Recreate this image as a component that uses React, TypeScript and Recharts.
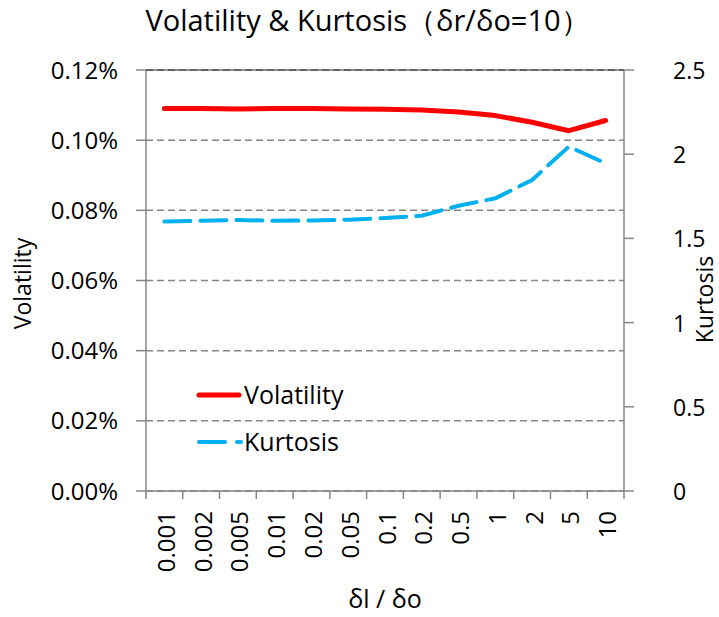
import React from 'react';
import {
  LineChart,
  Line,
  XAxis,
  YAxis,
  CartesianGrid,
  ReferenceLine,
  Legend,
  Label,
} from 'recharts';

const categories = ['0.001', '0.002', '0.005', '0.01', '0.02', '0.05', '0.1', '0.2', '0.5', '1', '2', '5', '10'];
const volatility = [0.1090, 0.1090, 0.1089, 0.1090, 0.1090, 0.1089, 0.1088, 0.1086, 0.1080, 0.1070, 0.1051, 0.1027, 0.1056];
const kurtosis = [1.6, 1.605, 1.609, 1.605, 1.607, 1.611, 1.621, 1.635, 1.694, 1.738, 1.847, 2.045, 1.946];
const volTicks = [0, 0.02, 0.04, 0.06, 0.08, 0.1, 0.12];
const kurtTicks = [0, 0.5, 1, 1.5, 2, 2.5];

const data = categories.map((c, i) => ({
  x: i + 0.5,
  label: c,
  volatility: volatility[i],
  kurtosis: kurtosis[i],
}));

const xTicks: number[] = [];
for (let i = 0; i <= categories.length * 2; i++) xTicks.push(i / 2);

const FONT = '"Open Sans", sans-serif';
const AXIS = '#868686';

const XTick = ({ x, y, payload }: any) => {
  const v = payload.value;
  if (Number.isInteger(v)) {
    return <line x1={x} x2={x} y1={y} y2={y + 8} stroke={AXIS} strokeWidth={1.5} />;
  }
  const lbl = categories[Math.floor(v)];
  return (
    <text
      transform={`translate(${x + 1},${y + 20}) rotate(-90)`}
      textAnchor='end'
      dominantBaseline='central'
      fontFamily={FONT}
      fontSize={24}
      fill='#000'
    >
      {lbl}
    </text>
  );
};

// the x handed in sits right on the axis, so push the label past tick + gap
const RightTick = ({ x, y, payload }: any) => (
  <text x={x + 23} y={y} textAnchor='start' dominantBaseline='central' fontFamily={FONT} fontSize={23} fill='#000'>
    {String(payload.value)}
  </text>
);

const LegendBox = () => (
  <div style={{ fontFamily: FONT, fontSize: 25, color: '#000', lineHeight: '47px' }}>
    <div style={{ display: 'flex', alignItems: 'center' }}>
      <svg width={48} height={10}>
        <line x1={3} x2={43} y1={5} y2={5} stroke='#ff0000' strokeWidth={5} strokeLinecap='round' />
      </svg>
      <span>Volatility</span>
    </div>
    <div style={{ display: 'flex', alignItems: 'center' }}>
      <svg width={48} height={10}>
        <line x1={3} x2={45} y1={5} y2={5} stroke='#00b0f0' strokeWidth={4} strokeDasharray='26 12' strokeLinecap='round' />
      </svg>
      <span>Kurtosis</span>
    </div>
  </div>
);

const App = () => {
  return (
    <div style={{ position: 'absolute', left: 0, top: 0, width: 719, height: 617, background: '#fff' }}>
      <div
        style={{
          position: 'absolute',
          left: 8,
          top: 0,
          width: 719,
          textAlign: 'center',
          fontFamily: FONT,
          fontSize: 29,
          color: '#000',
        }}
      >
        Volatility &amp; Kurtosis（δr/δo=10）
      </div>
      <LineChart
        width={719}
        height={617}
        data={data}
        margin={{ top: 70, right: 0, bottom: 0, left: 0 }}
      >
        <CartesianGrid vertical={false} yAxisId='left' stroke={AXIS} strokeWidth={1.5} strokeDasharray='7 4' />
        <XAxis
          dataKey='x'
          type='number'
          domain={[0, categories.length]}
          ticks={xTicks}
          interval={0}
          height={126}
          tickSize={0}
          tickMargin={0}
          tickLine={false}
          axisLine={{ stroke: AXIS, strokeWidth: 1.5 }}
          tick={<XTick />}
        >
          <Label
            content={({ viewBox }: any) => (
              <text
                x={viewBox.x + viewBox.width / 2}
                y={608}
                textAnchor='middle'
                fontFamily={FONT}
                fontSize={25}
                fill='#000'
              >
                δl / δo
              </text>
            )}
          />
        </XAxis>
        <YAxis
          yAxisId='left'
          width={146}
          domain={[0, 0.12]}
          ticks={volTicks}
          interval={0}
          tickFormatter={(v: number) => v.toFixed(2) + '%'}
          tickSize={10}
          tickMargin={18}
          tickLine={{ stroke: AXIS, strokeWidth: 1.5 }}
          axisLine={{ stroke: AXIS, strokeWidth: 1.5 }}
          tick={{ fill: '#000', fontFamily: FONT, fontSize: 24 }}
        >
          <Label
            content={({ viewBox }: any) => (
              <text
                transform={`translate(22,${viewBox.y + viewBox.height / 2 + 3}) rotate(-90)`}
                textAnchor='middle'
                dominantBaseline='central'
                fontFamily={FONT}
                fontSize={23}
                fill='#000'
              >
                Volatility
              </text>
            )}
          />
        </YAxis>
        <YAxis
          yAxisId='right'
          orientation='right'
          width={95}
          domain={[0, 2.5]}
          ticks={kurtTicks}
          interval={0}
          tickSize={10}
          tickMargin={16}
          tickLine={{ stroke: AXIS, strokeWidth: 1.5 }}
          axisLine={{ stroke: AXIS, strokeWidth: 1.5 }}
          tick={<RightTick />}
        >
          <Label
            content={({ viewBox }: any) => (
              <text
                transform={`translate(704,${viewBox.y + viewBox.height / 2 + 19}) rotate(-90)`}
                textAnchor='middle'
                dominantBaseline='central'
                fontFamily={FONT}
                fontSize={23}
                fill='#000'
              >
                Kurtosis
              </text>
            )}
          />
        </YAxis>
        <ReferenceLine yAxisId='left' y={0.12} stroke='#222' strokeWidth={1.2} />
        <Line
          yAxisId='left'
          dataKey='volatility'
          type='linear'
          stroke='#ff0000'
          strokeWidth={5}
          strokeLinecap='round'
          strokeLinejoin='round'
          dot={false}
          isAnimationActive={false}
        />
        <Line
          yAxisId='right'
          dataKey='kurtosis'
          type='linear'
          stroke='#00b0f0'
          strokeWidth={4}
          strokeDasharray='26 10'
          strokeLinecap='round'
          dot={false}
          isAnimationActive={false}
        />
        <Legend
          layout='vertical'
          align='center'
          verticalAlign='middle'
          wrapperStyle={{ left: 196, top: 371, width: 240 }}
          content={<LegendBox />}
        />
      </LineChart>
    </div>
  );
};

export default App;
